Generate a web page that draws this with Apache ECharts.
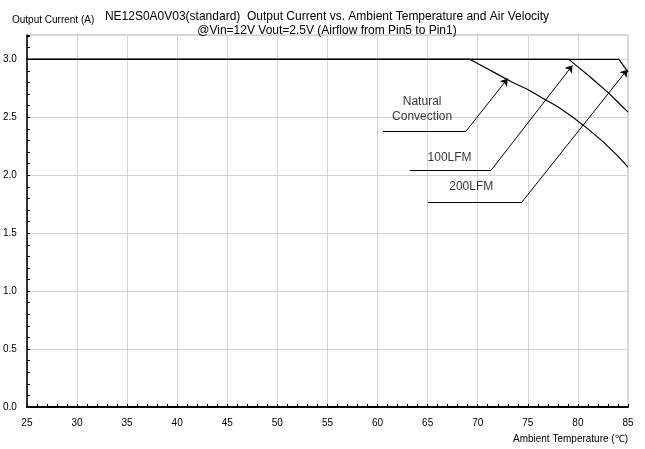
<!DOCTYPE html>
<html><head><meta charset="utf-8">
<script src="https://cdn.jsdelivr.net/npm/echarts@6/dist/echarts.min.js"></script>
<style>html,body{margin:0;padding:0;background:#fff}#c{width:645px;height:449px}</style>
</head><body><div id="c"></div>
<script>
// ---- data ----
const titleText = 'NE12S0A0V03(standard)  Output Current vs. Ambient Temperature and Air Velocity';
const subtitleText = '@Vin=12V Vout=2.5V (Airflow from Pin5 to Pin1)';
const yAxisName = 'Output Current (A)';
const xAxisName = 'Ambient Temperature (\u2103)';

const natTemp    = [25, 69.2, 70.5, 72, 73.5, 75, 76.5, 78, 79.5, 81, 82.5, 84, 85];
const natCurrent = [3.0, 3.0, 2.94, 2.87, 2.80, 2.74, 2.665, 2.59, 2.50, 2.40, 2.29, 2.165, 2.07];
const lfm100Temp    = [25, 79.1, 80, 81, 82, 83, 84, 85];
const lfm100Current = [3.0, 3.0, 2.935, 2.865, 2.79, 2.715, 2.63, 2.545];
const lfm200Temp    = [25, 84.1, 85];
const lfm200Current = [3.0, 3.0, 2.89];

// callouts: [label, leader start, leader elbow, arrow tip, label anchor] in data units
const calloutLabels = ['Natural\nConvection', '100LFM', '200LFM'];
const calloutStart  = [[60.55, 2.382], [63.21, 2.043], [65.03, 1.765]];
const calloutElbow  = [[68.85, 2.382], [71.34, 2.043], [74.38, 1.765]];
const calloutTip    = [[72.99, 2.834], [79.46, 2.948], [84.93, 2.911]];
const calloutText   = [[64.45, 2.57], [67.19, 2.153], [69.35, 1.899]];

const zip = (a, b) => a.map((v, i) => [v, b[i]]);

const chart = echarts.init(document.getElementById('c'));
const font = 'Liberation Sans, Arial, sans-serif';
const curve = (name, t, c) => ({
  name, type: 'line', data: zip(t, c), showSymbol: false, symbol: 'none',
  lineStyle: { color: '#000', width: 1.2 }, animation: false, z: 3
});

chart.setOption({
  animation: false,
  textStyle: { fontFamily: font },
  title: {
    text: titleText + '\n' + subtitleText,
    left: 322, top: 5, textAlign: 'center',
    textStyle: { fontSize: 12, fontWeight: 'normal', color: '#000', lineHeight: 14, fontFamily: font }
  },
  grid: { left: 26, right: 17, top: 35, bottom: 42, show: true, borderColor: '#bbb', borderWidth: 1 },
  xAxis: {
    type: 'value', min: 25, max: 85, interval: 5,
    name: xAxisName, nameLocation: 'end', nameGap: 0,
    nameTextStyle: { fontSize: 10, color: '#000', align: 'right', verticalAlign: 'top', padding: [27, 0, 0, 0] },
    axisLine: { lineStyle: { color: '#000', width: 2 } },
    axisTick: { inside: true, length: 3, lineStyle: { color: '#000' } },
    minorTick: { show: true, splitNumber: 5, length: 3, lineStyle: { color: '#000' } },
    axisLabel: { fontSize: 10, color: '#000', margin: 11 },
    splitLine: { show: true, lineStyle: { color: '#d4d4d4', width: 1 } }
  },
  yAxis: {
    type: 'value', min: 0, max: 3.21, interval: 0.5,
    axisLine: { show: true, lineStyle: { color: '#000', width: 1.5 } },
    axisTick: { show: true, inside: true, length: 3, lineStyle: { color: '#000' } },
    minorTick: { show: true, splitNumber: 5, length: 3, lineStyle: { color: '#000' } },
    axisLabel: { fontSize: 10, color: '#000', margin: 10, showMaxLabel: false,
      formatter: v => (Math.abs(v - 3.21) < 1e-6 ? '' : v.toFixed(1)) },
    splitLine: { show: true, lineStyle: { color: '#d4d4d4', width: 1 } }
  },
  graphic: [{
    type: 'text', left: 12, top: 15,
    style: { text: yAxisName, fontSize: 10, fill: '#000', fontFamily: font }
  }],
  series: [
    curve('Natural Convection', natTemp, natCurrent),
    curve('100LFM', lfm100Temp, lfm100Current),
    curve('200LFM', lfm200Temp, lfm200Current),
    {
      type: 'lines', coordinateSystem: 'cartesian2d', z: 4,
      symbol: 'none',
      lineStyle: { color: '#000', width: 1, opacity: 1 },
      data: calloutStart.map((s, i) => ({ coords: [s, calloutElbow[i]] }))
    },
    {
      type: 'lines', coordinateSystem: 'cartesian2d', z: 4,
      symbol: ['none', 'arrow'], symbolSize: [0, 7],
      lineStyle: { color: '#000', width: 1, opacity: 1 },
      data: calloutElbow.map((s, i) => ({ coords: [s, calloutTip[i]] }))
    },
    {
      type: 'scatter', symbolSize: 0, z: 5,
      data: calloutText.map((p, i) => ({ value: p, label: { formatter: calloutLabels[i] } })),
      label: { show: true, position: 'inside', fontSize: 12, color: '#000', lineHeight: 15, fontFamily: font }
    }
  ]
});
</script></body></html>
